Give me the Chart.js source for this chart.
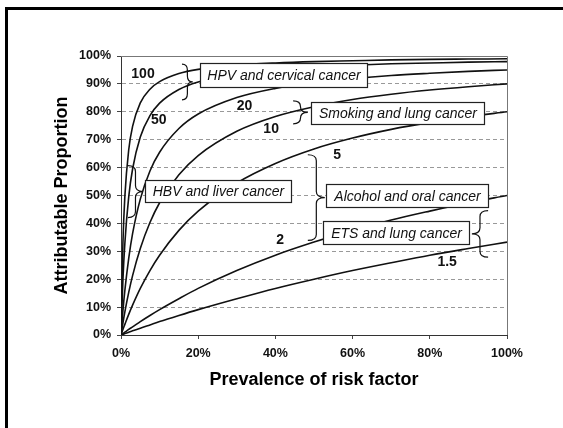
<!DOCTYPE html>
<html>
<head>
<meta charset="utf-8">
<script src="https://cdn.jsdelivr.net/npm/chart.js@4/dist/chart.umd.min.js"></script>
<style>
  html, body { margin: 0; padding: 0; background: #fff; }
  canvas { display: block; }
</style>
</head>
<body>
<canvas id="apChart" width="563" height="428"></canvas>
<script>
// prevalence of risk factor (%)
const prevalence = [0, 0.5, 1, 2, 3, 5, 7.5, 10, 15, 20, 30, 40, 50, 60, 70, 80, 90, 100];

// attributable proportion (%), by relative risk
const rr100 = [0, 33.1, 49.7, 66.4, 74.8, 83.2, 88.1, 90.8, 93.7, 95.2, 96.7, 97.5, 98.0, 98.3, 98.6, 98.8, 98.9, 99.0];
const rr50  = [0, 19.7, 32.9, 49.5, 59.5, 71.0, 78.6, 83.1, 88.0, 90.7, 93.6, 95.1, 96.1, 96.7, 97.2, 97.5, 97.8, 98.0];
const rr20  = [0, 8.7, 16.0, 27.5, 36.3, 48.7, 58.8, 65.5, 74.0, 79.2, 85.1, 88.4, 90.5, 91.9, 93.0, 93.8, 94.5, 95.0];
const rr10  = [0, 4.3, 8.3, 15.3, 21.3, 31.0, 40.3, 47.4, 57.4, 64.3, 73.0, 78.3, 81.8, 84.4, 86.3, 87.8, 89.0, 90.0];
const rr5   = [0, 2.0, 3.8, 7.4, 10.7, 16.7, 23.1, 28.6, 37.5, 44.4, 54.5, 61.5, 66.7, 70.6, 73.7, 76.2, 78.3, 80.0];
const rr2   = [0, 0.5, 1.0, 2.0, 2.9, 4.8, 7.0, 9.1, 13.0, 16.7, 23.1, 28.6, 33.3, 37.5, 41.2, 44.4, 47.4, 50.0];
const rr15  = [0, 0.2, 0.5, 1.0, 1.5, 2.4, 3.6, 4.8, 7.0, 9.1, 13.0, 16.7, 20.0, 23.1, 25.9, 28.6, 31.0, 33.3];

const seriesNames = ['100', '50', '20', '10', '5', '2', '1.5'];
const seriesValues = [rr100, rr50, rr20, rr10, rr5, rr2, rr15];

// curve labels: text, x (%), y (%)
const curveLabels = [
  ['100', 5.7, 93.4],
  ['50', 9.8, 77.0],
  ['20', 32.0, 82.1],
  ['10', 38.9, 73.9],
  ['5', 56.0, 64.6],
  ['2', 41.2, 33.9],
  ['1.5', 84.5, 26.1]
];

// boxed notes: text, x1, x2, yTop, yBottom (data units)
const noteBoxes = [
  ['HPV and cervical cancer', 20.5, 63.7, 97.5, 88.9],
  ['Smoking and lung cancer', 49.2, 94.0, 83.6, 75.7],
  ['HBV and liver cancer', 6.2, 44.0, 55.7, 47.5],
  ['Alcohol and oral cancer', 53.1, 95.1, 54.3, 45.7],
  ['ETS and lung cancer', 52.3, 90.2, 40.7, 32.5]
];

// braces: curl x, tip x, yTop, yBottom
const braces = [
  [15.8, 18.6, 97.1, 84.3],
  [44.6, 48.4, 83.9, 75.7],
  [1.8, 5.7, 60.7, 42.1],
  [48.4, 52.8, 64.6, 33.9],
  [95.1, 90.9, 44.6, 27.9]
];

const yTicks = [0, 10, 20, 30, 40, 50, 60, 70, 80, 90, 100];
const xTicks = [0, 20, 40, 60, 80, 100];

function drawBrace(ctx, xCurl, xTip, yTop, yBot) {
  const xMid = (xCurl + xTip) / 2;
  const yMid = (yTop + yBot) / 2;
  const r = Math.min(6, (yBot - yTop) / 4);
  ctx.beginPath();
  ctx.moveTo(xCurl, yTop);
  ctx.quadraticCurveTo(xMid, yTop, xMid, yTop + r);
  ctx.lineTo(xMid, yMid - r);
  ctx.quadraticCurveTo(xMid, yMid, xTip, yMid);
  ctx.quadraticCurveTo(xMid, yMid, xMid, yMid + r);
  ctx.lineTo(xMid, yBot - r);
  ctx.quadraticCurveTo(xMid, yBot, xCurl, yBot);
  ctx.stroke();
}

const notesPlugin = {
  id: 'notes',
  beforeDraw(chart) {
    const ctx = chart.ctx;
    ctx.save();
    ctx.fillStyle = '#fff';
    ctx.fillRect(0, 0, chart.width, chart.height);
    ctx.restore();
  },
  afterDatasetsDraw(chart) {
    const ctx = chart.ctx;
    const xs = chart.scales.x, ys = chart.scales.y;
    const area = chart.chartArea;
    ctx.save();

    // plot frame top/right
    ctx.strokeStyle = '#777';
    ctx.lineWidth = 1;
    ctx.beginPath();
    ctx.moveTo(area.left, area.top + 0.5);
    ctx.lineTo(area.right + 0.5, area.top + 0.5);
    ctx.lineTo(area.right + 0.5, area.bottom);
    ctx.stroke();

    // braces
    ctx.strokeStyle = '#111';
    ctx.lineWidth = 1.2;
    braces.forEach(b => {
      drawBrace(ctx, xs.getPixelForValue(b[0]), xs.getPixelForValue(b[1]),
        ys.getPixelForValue(b[2]), ys.getPixelForValue(b[3]));
    });

    // boxes
    ctx.font = 'italic 14px "Liberation Sans", Arial, sans-serif';
    ctx.textAlign = 'center';
    ctx.textBaseline = 'middle';
    noteBoxes.forEach(b => {
      const x1 = Math.round(xs.getPixelForValue(b[1])) + 0.5;
      const x2 = Math.round(xs.getPixelForValue(b[2])) + 0.5;
      const y1 = Math.round(ys.getPixelForValue(b[3])) + 0.5;
      const y2 = Math.round(ys.getPixelForValue(b[4])) + 0.5;
      ctx.fillStyle = '#fff';
      ctx.fillRect(x1, y1, x2 - x1, y2 - y1);
      ctx.strokeStyle = '#222';
      ctx.lineWidth = 1.2;
      ctx.strokeRect(x1, y1, x2 - x1, y2 - y1);
      ctx.fillStyle = '#111';
      ctx.fillText(b[0], (x1 + x2) / 2, (y1 + y2) / 2 + 1);
    });

    // curve labels
    ctx.font = 'bold 14px "Liberation Sans", Arial, sans-serif';
    ctx.fillStyle = '#111';
    curveLabels.forEach(l => {
      ctx.fillText(l[0], xs.getPixelForValue(l[1]), ys.getPixelForValue(l[2]));
    });
    ctx.restore();
  },
  afterDraw(chart) {
    const ctx = chart.ctx;
    ctx.save();
    ctx.strokeStyle = '#000';
    ctx.lineWidth = 3;
    ctx.beginPath();
    ctx.moveTo(6.5, chart.height + 5);
    ctx.lineTo(6.5, 8.5);
    ctx.lineTo(chart.width + 5, 8.5);
    ctx.stroke();
    ctx.restore();
  }
};

const tickFont = { family: '"Liberation Sans", Arial, sans-serif', size: 12.5, weight: 'bold' };
const titleFont = { family: '"Liberation Sans", Arial, sans-serif', size: 18, weight: 'bold' };

new Chart(document.getElementById('apChart'), {
  type: 'line',
  data: {
    datasets: seriesNames.map((name, i) => ({
      label: name,
      data: prevalence.map((p, j) => ({ x: p, y: seriesValues[i][j] })),
      borderColor: '#111',
      borderWidth: 1.6,
      pointRadius: 0,
      fill: false,
      cubicInterpolationMode: 'monotone'
    }))
  },
  options: {
    responsive: false,
    animation: false,
    layout: { padding: { left: 0, right: 56, top: 56, bottom: 0 } },
    plugins: { legend: { display: false }, tooltip: { enabled: false } },
    scales: {
      x: {
        type: 'linear',
        min: 0, max: 100,
        afterFit(scale) { scale.height = 93; },
        afterBuildTicks(scale) { scale.ticks = xTicks.map(v => ({ value: v })); },
        ticks: { font: tickFont, color: '#111', padding: 7, callback: v => v + '%' },
        grid: { drawOnChartArea: false, drawTicks: true, tickLength: 4, tickColor: '#444' },
        border: { color: '#333', width: 1 },
        title: { display: true, text: 'Prevalence of risk factor', font: titleFont, color: '#000',
                 padding: { top: 0, bottom: 37 } }
      },
      y: {
        min: 0, max: 100,
        afterFit(scale) { scale.width = 121; },
        afterBuildTicks(scale) { scale.ticks = yTicks.map(v => ({ value: v })); },
        ticks: { font: tickFont, color: '#111', padding: 6, callback: v => v + '%' },
        grid: { color: '#999', tickBorderDash: [], tickColor: '#444', tickLength: 4 },
        border: { color: '#333', width: 1, dash: [4, 3] },
        title: { display: true, text: 'Attributable Proportion', font: titleFont, color: '#000',
                 padding: { top: 51, bottom: 0 } }
      }
    }
  },
  plugins: [notesPlugin]
});
</script>
</body>
</html>
